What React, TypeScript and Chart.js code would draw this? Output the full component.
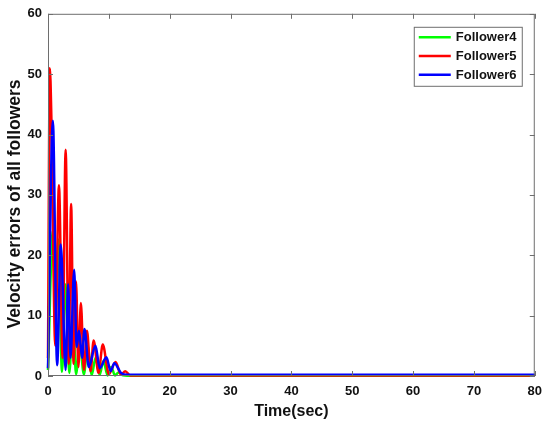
import React, { useEffect, useRef } from "react";
import { Chart, registerables } from "chart.js";

Chart.register(...registerables);

// ---- data ----
const seriesNames = ["Follower4", "Follower5", "Follower6"];
const seriesColors = ["#00ff00", "#ff0000", "#0000ff"];

const timeF4 = [0, 0.8, 1.2, 1.7, 2.3, 2.9, 3.5, 4.1, 4.6, 5.2, 5.9, 6.5, 7.2, 7.8, 8.5, 9.1, 9.8, 10.4, 11.0, 11.6, 12.3, 13, 20, 40, 60, 80];
const valueF4 = [1, 24, 10, 22.6, 0.7, 15.2, 0.5, 10, 0.3, 5.5, 0.3, 5, 0.2, 3, 0.2, 2.5, 0.1, 1.5, 0.1, 0.6, 0.1, 0.05, 0.05, 0.05, 0.05, 0.05];

const timeF5 = [0, 0.3, 0.55, 1.2, 1.8, 2.4, 2.9, 3.4, 3.8, 4.2, 4.6, 5.0, 5.4, 5.9, 6.4, 7.0, 7.5, 8.3, 9.0, 10.0, 11.1, 12.0, 12.7, 13.5, 20, 40, 60, 80];
const valueF5 = [3, 51, 43, 5, 31.6, 3, 37.5, 2, 28.5, 2, 15.7, 1.5, 12.1, 1, 7.5, 0.8, 5.9, 0.5, 5.2, 0.3, 2.3, 0.2, 0.8, 0.1, 0.1, 0.1, 0.1, 0.1];

const timeF6 = [0, 0.8, 1.5, 2.1, 2.9, 3.3, 3.7, 4.3, 4.7, 5.1, 5.6, 6.0, 6.7, 7.8, 8.5, 9.6, 10.3, 10.9, 12, 13, 20, 40, 60, 80];
const valueF6 = [1.3, 42.3, 1.8, 21.8, 1, 15.2, 3, 17.6, 4.8, 7.5, 3, 7.8, 1.5, 5, 1.3, 3.1, 0.8, 2.1, 0.5, 0.2, 0.2, 0.2, 0.2, 0.2];

const xTicks = [0, 10, 20, 30, 40, 50, 60, 70, 80];
const yTicks = [0, 10, 20, 30, 40, 50, 60];
const yTitle = "Velocity errors of all followers";

const FONT = "'Liberation Sans', Arial, sans-serif";

function toPoints(t: number[], v: number[]) {
  return t.map((x, i) => ({ x, y: v[i] }));
}

const boxPlugin = {
  id: "matlabBox",
  afterDraw(chart: any) {
    const { ctx, chartArea, scales } = chart;
    const { left, right, top, bottom } = chartArea;
    ctx.save();
    ctx.strokeStyle = "#6e6e6e";
    ctx.lineWidth = 1;
    ctx.strokeRect(left + 0.5, top + 0.5, right - left - 1, bottom - top - 1);
    const tl = 5;
    ctx.beginPath();
    xTicks.forEach((v) => {
      const px = Math.round(scales.x.getPixelForValue(v)) + 0.5;
      ctx.moveTo(px, bottom);
      ctx.lineTo(px, bottom - tl);
      ctx.moveTo(px, top);
      ctx.lineTo(px, top + tl);
    });
    yTicks.forEach((v) => {
      const py = Math.round(scales.y.getPixelForValue(v)) + 0.5;
      ctx.moveTo(left, py);
      ctx.lineTo(left + tl, py);
      ctx.moveTo(right, py);
      ctx.lineTo(right - tl, py);
    });
    ctx.stroke();

    // y axis title
    ctx.save();
    ctx.translate(15, (top + bottom) / 2 + 9);
    ctx.rotate(-Math.PI / 2);
    ctx.font = `bold 17.5px ${FONT}`;
    ctx.fillStyle = "#111";
    ctx.textAlign = "center";
    ctx.textBaseline = "middle";
    ctx.fillText(yTitle, 0, 0);
    ctx.restore();

    // legend inside plot area (upper right)
    const bw = 108;
    const bh = 59;
    const bx = right - 13 - bw;
    const by = top + 13;
    ctx.fillStyle = "#ffffff";
    ctx.fillRect(bx, by, bw, bh);
    ctx.strokeStyle = "#6e6e6e";
    ctx.lineWidth = 1;
    ctx.strokeRect(bx + 0.5, by + 0.5, bw, bh);
    ctx.font = `bold 13px ${FONT}`;
    ctx.textBaseline = "middle";
    ctx.textAlign = "left";
    chart.data.datasets.forEach((ds: any, i: number) => {
      const y = by + 10.5 + i * 18.7;
      ctx.strokeStyle = ds.borderColor;
      ctx.lineWidth = 2.5;
      ctx.beginPath();
      ctx.moveTo(bx + 5, y);
      ctx.lineTo(bx + 37, y);
      ctx.stroke();
      ctx.fillStyle = "#111";
      ctx.fillText(ds.label, bx + 42, y + 0.5);
    });
    ctx.restore();
  },
};

export default function App() {
  const ref = useRef<HTMLCanvasElement | null>(null);

  useEffect(() => {
    document.body.style.margin = "0";
    const canvas = ref.current;
    if (!canvas) return;
    const times = [timeF4, timeF5, timeF6];
    const values = [valueF4, valueF5, valueF6];
    const chart = new Chart(canvas, {
      type: "line",
      data: {
        datasets: seriesNames.map((name, i) => ({
          label: name,
          data: toPoints(times[i], values[i]),
          borderColor: seriesColors[i],
          backgroundColor: seriesColors[i],
          borderWidth: 2.5,
          pointRadius: 0,
          tension: 0.35,
          cubicInterpolationMode: "monotone" as const,
          order: 3 - i,
          clip: 2,
        })),
      },
      options: {
        animation: false,
        responsive: false,
        devicePixelRatio: 1,
        layout: { padding: { left: 0, top: 10, right: 12, bottom: 0 } },
        plugins: { legend: { display: false }, tooltip: { enabled: false } },
        scales: {
          x: {
            type: "linear",
            min: 0,
            max: 80,
            afterFit: (s: any) => {
              s.height = 52;
            },
            afterBuildTicks: (s: any) => {
              s.ticks = xTicks.map((v) => ({ value: v }));
            },
            grid: { display: false, drawTicks: false },
            border: { display: false },
            ticks: {
              padding: 8,
              color: "#111",
              font: { family: FONT, size: 13, weight: "bold" },
              maxRotation: 0,
            },
            title: {
              display: true,
              text: "Time(sec)",
              color: "#111",
              font: { family: FONT, size: 16, weight: "bold" },
              padding: { top: 0, bottom: 7 },
            },
          },
          y: {
            type: "linear",
            min: 0,
            max: 60,
            afterFit: (s: any) => {
              s.width = 48;
            },
            afterBuildTicks: (s: any) => {
              s.ticks = yTicks.map((v) => ({ value: v }));
            },
            grid: { display: false, drawTicks: false },
            border: { display: false },
            ticks: {
              padding: 6,
              color: "#111",
              font: { family: FONT, size: 13, weight: "bold" },
            },
          },
        },
      },
      plugins: [boxPlugin],
    });
    return () => chart.destroy();
  }, []);

  return (
    <div style={{ width: 550, height: 428 }}>
      <canvas ref={ref} width={550} height={428} style={{ display: "block" }} />
    </div>
  );
}
